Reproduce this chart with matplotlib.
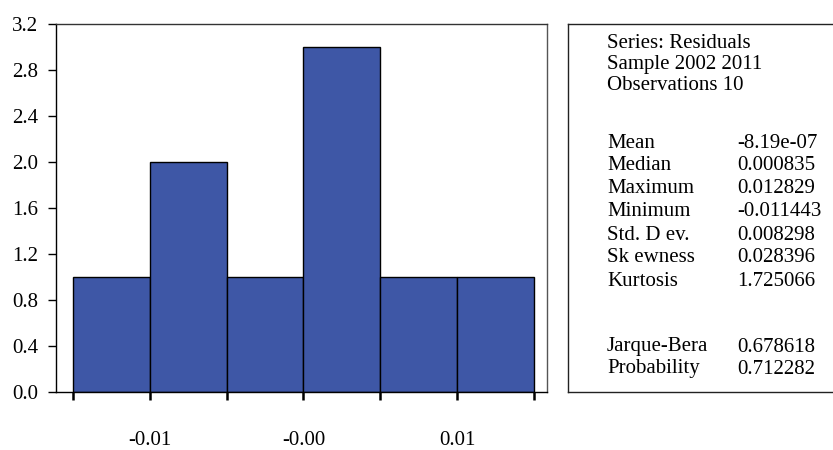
import matplotlib
matplotlib.use("Agg")
import matplotlib.pyplot as plt
import numpy as np

# histogram of residuals
bin_edges = [-0.015, -0.010, -0.005, 0.000, 0.005, 0.010, 0.015]
counts = [1, 2, 1, 3, 1, 1]
xtick_pos = [-0.01, 0.0, 0.01]
xtick_lbl = ["-0.01", "-0.00", "0.01"]
yticks = [0.0, 0.4, 0.8, 1.2, 1.6, 2.0, 2.4, 2.8, 3.2]

# statistics panel
header = ["Series: Residuals", "Sample 2002 2011", "Observations 10"]
stat_names = ["Mean", "Median", "Maximum", "Minimum", "Std. D ev.", "Sk ewness", "Kurtosis"]
stat_vals = ["-8.19e-07", "0.000835", "0.012829", "-0.011443", "0.008298", "0.028396", "1.725066"]
jb_names = ["Jarque-Bera", "Probability"]
jb_vals = ["0.678618", "0.712282"]

plt.rcParams["font.family"] = ["Liberation Serif", "DejaVu Serif"]
fs = 15
W, H = 833, 450

fig = plt.figure(figsize=(W / 100, H / 100), dpi=100)

# main histogram axes
ax = fig.add_axes([56 / W, (H - 392) / H, (547 - 56) / W, (392 - 24) / H])
lefts = np.array(bin_edges[:-1])
widths = np.diff(bin_edges)
ax.bar(lefts, counts, width=widths, align="edge", color="#3E57A6",
       edgecolor="black", linewidth=1.0)
ax.set_xlim(-0.016106, 0.015846)
ax.set_ylim(0, 3.2)
ax.set_yticks(yticks)
ax.set_yticklabels(["%.1f" % v for v in yticks], fontsize=fs)
ax.set_xticks(bin_edges, minor=True)
ax.set_xticks(xtick_pos)
ax.set_xticklabels(xtick_lbl, fontsize=fs)
ax.tick_params(axis="y", direction="out", length=6, width=1, pad=7)
ax.tick_params(axis="x", which="both", direction="out", length=6, width=1.8, pad=22)
ax.spines["left"].set_color("black")
ax.spines["bottom"].set_color("black")
ax.spines["top"].set_color("#333333")
ax.spines["right"].set_color("#555555")
for s in ax.spines.values():
    s.set_linewidth(1.0)

# statistics box
bx = fig.add_axes([568 / W, (H - 392) / H, 1 - 568 / W + 0.01, (392 - 24) / H])
bx.set_xticks([])
bx.set_yticks([])
bx.set_xlim(0, 1)
bx.set_ylim(0, 1)
bx.spines["right"].set_visible(False)
for s in ["left", "top", "bottom"]:
    bx.spines[s].set_color("#222222")
    bx.spines[s].set_linewidth(1.0)

x1 = 607 / W
x2 = 737 / W

def ypos(py):
    return 1 - py / H

for txt, py in zip(header, [43, 65, 86]):
    fig.text(x1, ypos(py), txt, fontsize=fs, va="center", ha="left")
for i, (n, v) in enumerate(zip(stat_names, stat_vals)):
    py = 143 + i * 23
    fig.text(x1, ypos(py), n, fontsize=fs, va="center", ha="left")
    fig.text(x2, ypos(py), v, fontsize=fs, va="center", ha="left")
for i, (n, v) in enumerate(zip(jb_names, jb_vals)):
    py = 347 + i * 22
    fig.text(x1, ypos(py), n, fontsize=fs, va="center", ha="left")
    fig.text(x2, ypos(py), v, fontsize=fs, va="center", ha="left")

fig.savefig("out.png", dpi=100)
plt.close(fig)
